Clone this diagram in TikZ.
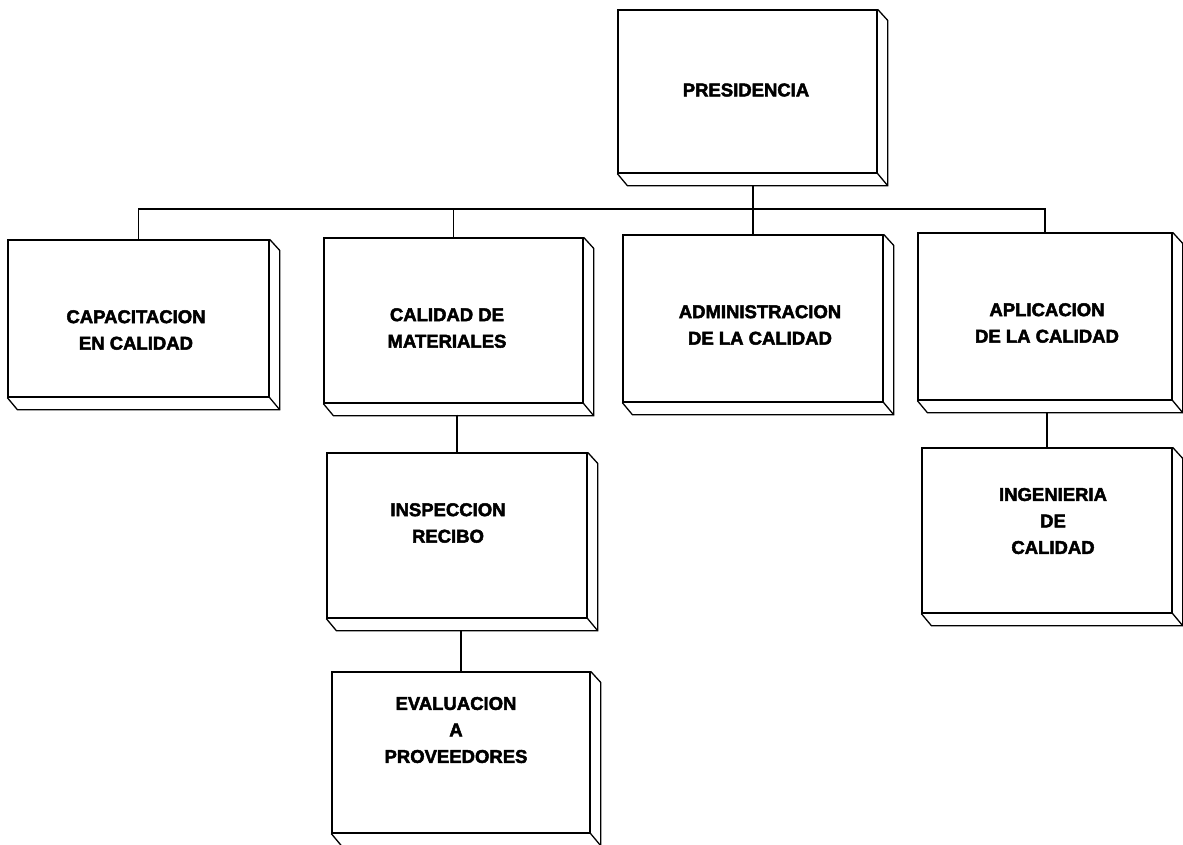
\documentclass[tikz,border=0pt]{standalone}
\usepackage{fontspec}
\setmainfont{Liberation Sans}
\newfontfamily\negrita[FakeBold=2.5]{Liberation Sans Bold}
\usetikzlibrary{positioning}

\begin{document}
\begin{tikzpicture}[x=1pt, y=-1pt, line width=1.3pt,
  caja/.style={draw, rectangle, inner sep=0pt},
  texto/.style={align=center, font=\negrita\fontsize{18.5}{26.5}\selectfont}]

\useasboundingbox (0,0) rectangle (1183,844);

% cajas (cara frontal)
\node (pres) [caja, minimum width=259, minimum height=163] at (747.5, 91.5) {};
\node (capa) [caja, minimum width=261, minimum height=157] at (138.5, 318.5) {};
\node (mate) [caja, minimum width=259, minimum height=165] at (453.5, 320.5) {};
\node (admi) [caja, minimum width=260, minimum height=167] at (753, 318.5) {};
\node (apli) [caja, minimum width=254, minimum height=167] at (1045, 316.5) {};
\node (insp) [caja, minimum width=260, minimum height=165] at (457, 535.5) {};
\node (eval) [caja, minimum width=258, minimum height=161] at (461, 752.5) {};
\node (inge) [caja, minimum width=250, minimum height=165] at (1047, 530.5) {};

% relieve
\foreach \n in {pres, capa, mate, admi, apli, insp, eval, inge} {
\draw (\n.north east) -- ++(10,11) -- ([shift={(10,12)}]\n.south east)
  -- ([shift={(10,12)}]\n.south west) -- (\n.south west);
\draw (\n.south east) -- ++(10,12);
}

% textos
\node (presT) [texto] at (746, 90) {PRESIDENCIA};
\node (capaT) [texto] at (136, 330) {CAPACITACION\\EN CALIDAD};
\node (mateT) [texto] at (447, 328) {CALIDAD DE\\MATERIALES};
\node (admiT) [texto] at (760, 325) {ADMINISTRACION\\DE LA CALIDAD};
\node (apliT) [texto] at (1047, 323) {APLICACION\\DE LA CALIDAD};
\node (inspT) [texto] at (448, 523) {INSPECCION\\RECIBO};
\node (evalT) [texto] at (456, 730) {EVALUACION\\A\\PROVEEDORES};
\node (ingeT) [texto] at (1053, 521) {INGENIERIA\\DE\\CALIDAD};

% lineas de mando
\coordinate (bus) at (753, 209);
\path ([yshift=-12]pres.south -| bus) edge (bus);
\draw (capa.north) -- (capa.north |- bus) -- (apli.north |- bus) -- (apli.north);
\path (mate.north) edge (mate.north |- bus);
\path (admi.north) edge (admi.north |- bus);
\path ([yshift=-11]insp.north |- mate.south) edge (insp.north);
\path ([yshift=-12]eval.north |- insp.south) edge (eval.north);
\path ([yshift=-12]inge.north |- apli.south) edge (inge.north);

\end{tikzpicture}
\end{document}
